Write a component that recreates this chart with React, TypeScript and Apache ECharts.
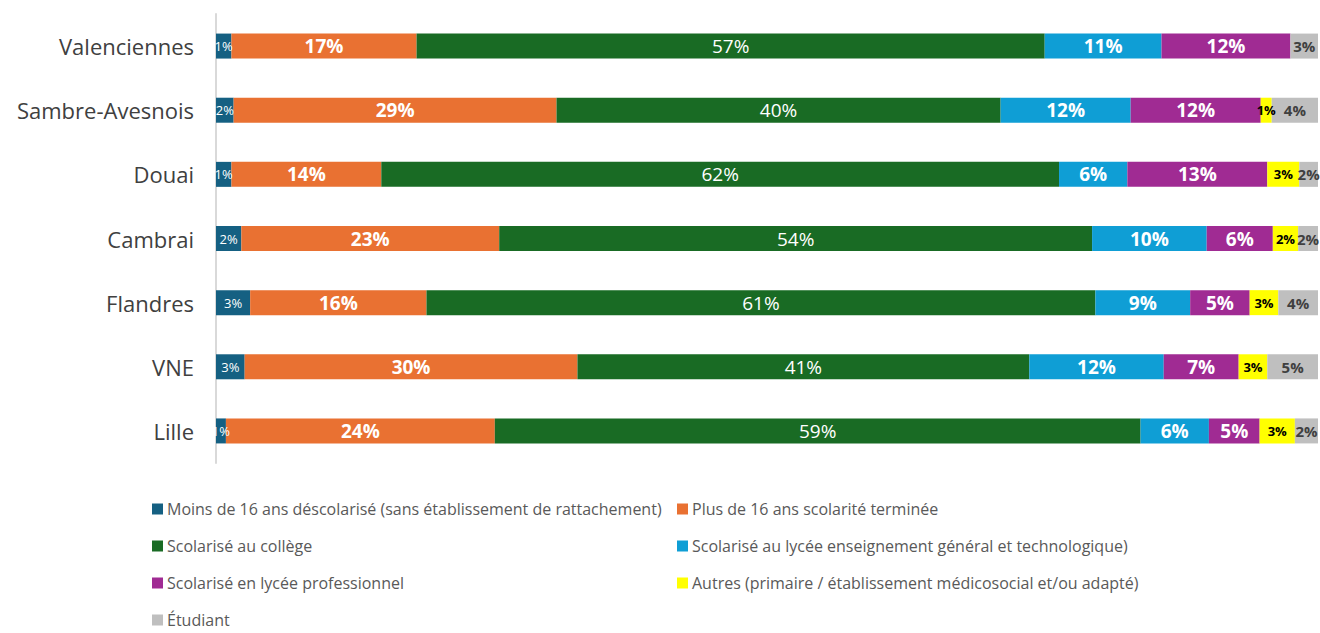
import React, { useEffect, useRef } from "react";
import * as echarts from "echarts";

const categories = ["Valenciennes", "Sambre-Avesnois", "Douai", "Cambrai", "Flandres", "VNE", "Lille"];

const seriesNames = [
  "Moins de 16 ans déscolarisé (sans établissement de rattachement)",
  "Plus de 16 ans scolarité terminée",
  "Scolarisé au collège",
  "Scolarisé au lycée enseignement général et technologique)",
  "Scolarisé en lycée professionnel",
  "Autres (primaire / établissement médicosocial et/ou adapté)",
  "Étudiant",
];

const moins16 = [1.4, 1.6, 1.4, 2.3, 3.1, 2.6, 0.9];
const plus16 = [16.8, 29.3, 13.6, 23.4, 16.0, 30.2, 24.4];
const college = [57.0, 40.3, 61.5, 53.8, 60.7, 41.0, 58.6];
const lyceeGT = [10.6, 11.8, 6.2, 10.4, 8.6, 12.2, 6.2];
const lyceePro = [11.7, 11.8, 12.7, 6.0, 5.4, 6.8, 4.6];
const autres = [0, 1.0, 2.9, 2.3, 2.6, 2.6, 3.2];
const etudiant = [2.5, 4.2, 1.7, 1.8, 3.6, 4.6, 2.1];

const seriesData = [moins16, plus16, college, lyceeGT, lyceePro, autres, etudiant];
const colors = ["#156082", "#E97132", "#196B24", "#0F9ED5", "#A02B93", "#FFFF00", "#BFBFBF"];
const labelStyles = [
  { color: "#ffffff", fontWeight: "normal", fontSize: 13 },
  { color: "#ffffff", fontWeight: "bold", fontSize: 19 },
  { color: "#ffffff", fontWeight: "normal", fontSize: 19 },
  { color: "#ffffff", fontWeight: "bold", fontSize: 19 },
  { color: "#ffffff", fontWeight: "bold", fontSize: 19 },
  { color: "#000000", fontWeight: "bold", fontSize: 13 },
  { color: "#404040", fontWeight: "bold", fontSize: 15 },
];

const FONT = "'Open Sans', sans-serif";

export default function App() {
  const ref = useRef<HTMLDivElement>(null);
  useEffect(() => {
    document.body.style.margin = "0";
    const chart = echarts.init(ref.current!, null, { renderer: "svg" });
    const series = seriesNames.map((name, i) => ({
      name,
      type: "bar",
      stack: "total",
      barWidth: 25,
      itemStyle: { color: colors[i] },
      label: {
        show: true,
        position: "inside",
        fontFamily: FONT,
        ...labelStyles[i],
        formatter: (p: any) => (p.value > 0 ? Math.round(p.value) + "%" : ""),
      },
      data: seriesData[i],
    }));
    const legendBase = {
      orient: "vertical",
      top: 501,
      height: 220,
      padding: 0,
      itemWidth: 11,
      itemHeight: 11,
      itemGap: 21,
      icon: "rect",
      textStyle: { color: "#595959", fontSize: 16, lineHeight: 14, fontFamily: FONT, padding: [0, 0, 0, -1] },
    };
    chart.setOption({
      animation: false,
      textStyle: { fontFamily: FONT },
      grid: { left: 216, right: 2, top: 14, bottom: 170 },
      xAxis: {
        type: "value",
        min: 0,
        max: 100,
        show: false,
      },
      yAxis: {
        type: "category",
        data: categories,
        inverse: true,
        axisLine: { show: true, lineStyle: { color: "#D9D9D9", width: 2 } },
        axisTick: { show: false },
        axisLabel: { color: "#404040", fontSize: 22, margin: 22, fontFamily: FONT },
      },
      legend: [
        { ...legendBase, left: 152, data: [seriesNames[0], seriesNames[2], seriesNames[4], seriesNames[6]] },
        { ...legendBase, left: 677, data: [seriesNames[1], seriesNames[3], seriesNames[5]] },
      ],
      series,
    });
    return () => chart.dispose();
  }, []);
  return <div ref={ref} style={{ width: 1320, height: 633 }} />;
}
